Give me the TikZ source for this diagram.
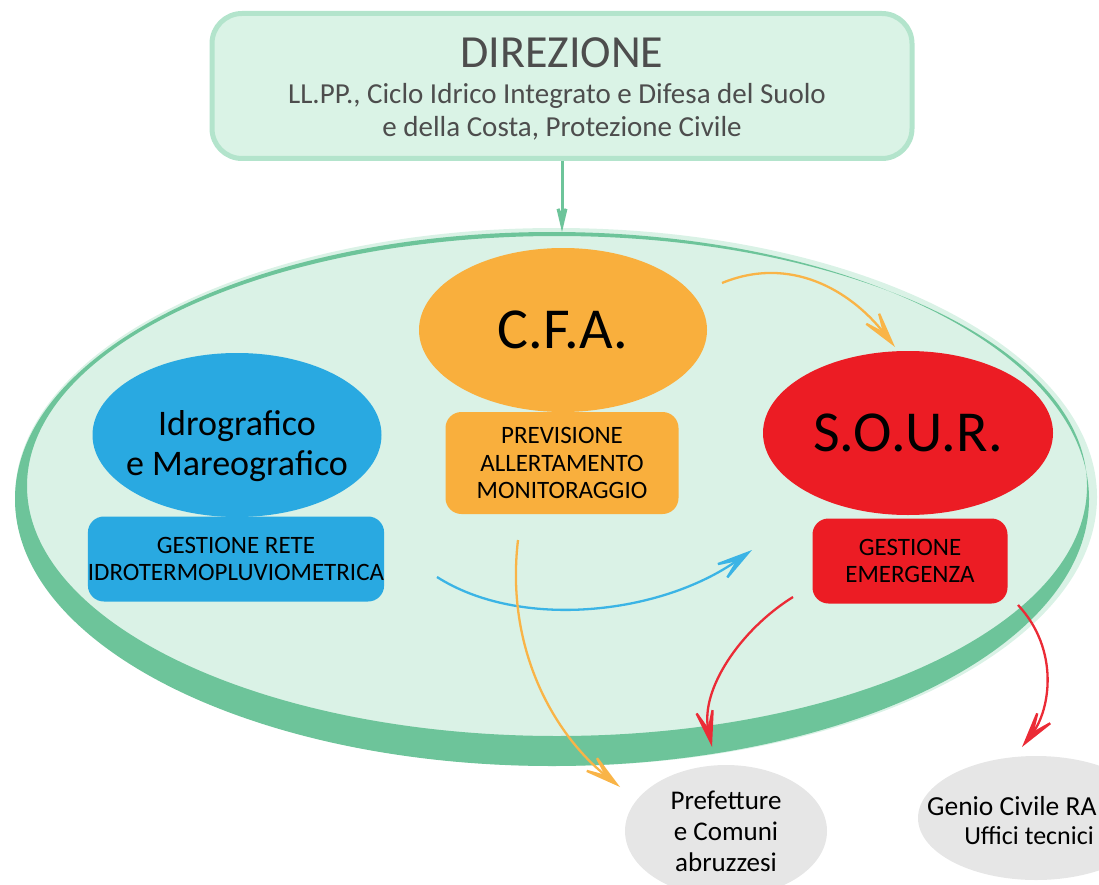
\documentclass[tikz,border=0pt]{standalone}
\usepackage{fontspec}
\setmainfont{Carlito}
\usetikzlibrary{shapes.geometric,arrows.meta}
\definecolor{lgreen}{HTML}{DAF2E6}
\definecolor{boxgreen}{HTML}{DAF3E6}
\definecolor{boxborder}{HTML}{B3E4CC}
\definecolor{bandgreen}{HTML}{6DC49A}
\definecolor{corange}{HTML}{F9AF3D}
\definecolor{cblue}{HTML}{29A9E1}
\definecolor{cred}{HTML}{EC1C24}
\definecolor{cgray}{HTML}{E6E6E6}
\definecolor{darktext}{HTML}{4D4D4D}
\definecolor{arrblue}{HTML}{3BB4E5}
\definecolor{arrorange}{HTML}{F9B447}
\definecolor{arrred}{HTML}{EB2B36}
\tikzset{
  oval/.style={ellipse, inner sep=0pt, text=black},
  subbox/.style={rectangle, rounded corners=16pt, inner sep=0pt, align=center, text=black,
     font=\fontsize{25}{27.5}\selectfont},
  bigtitle/.style={font=\fontsize{58}{60}\selectfont},
  midtitle/.style={align=center, inner sep=0pt, font=\fontsize{36}{40.5}\selectfont},
  dirtext/.style={anchor=base, inner sep=0pt, text=darktext},
  grayoval/.style={ellipse, fill=cgray, inner sep=0pt, align=center, text=black,
     font=\fontsize{27}{31}\selectfont},
  flow/.style={line width=2.3pt, -{Stealth[length=50pt,width=26pt,inset=30pt]}},
}
\begin{document}
\begin{tikzpicture}[x=1pt,y=-1pt]
\useasboundingbox (0,0) rectangle (1099,885);
% big ellipse (brush ring)
\fill[lgreen] (556,497) ellipse [x radius=541pt, y radius=269pt];
\fill[bandgreen, even odd rule] (552,499) ellipse [x radius=537pt, y radius=267pt]
      (557,486) ellipse [x radius=530pt, y radius=250pt];
\node[ellipse, minimum width=1082pt, minimum height=538pt, inner sep=0pt] (big) at (556,497) {};
% top box
\node[rectangle, rounded corners=30pt, fill=boxgreen, draw=boxborder, line width=5pt,
      minimum width=700pt, minimum height=145pt, inner sep=0pt] (dir) at (562,86) {};
\node[dirtext, font=\fontsize{46}{50}\selectfont] (dirt1) at (562,68) {DIREZIONE};
\node[dirtext, font=\fontsize{29}{34}\selectfont] (dirt2) at (557,104) {LL.PP., Ciclo Idrico Integrato e Difesa del Suolo};
\node[dirtext, font=\fontsize{29}{34}\selectfont] (dirt3) at (562,137) {e della Costa, Protezione Civile};
\coordinate (dirend) at (dir.south |- 0,232);
\draw[bandgreen, line width=3pt, -{Stealth[length=38pt,width=18pt,inset=20pt]}] (dir.south) -- (dirend);
% CFA
\node[oval, fill=corange, minimum width=288pt, minimum height=164pt, bigtitle] (cfa) at (563,330) {C.F.A.};
\node[subbox, fill=corange, minimum width=233pt, minimum height=102pt] (cfabox) at (562,463)
  {PREVISIONE\\ALLERTAMENTO\\MONITORAGGIO};
% Idrografico
\node[oval, fill=cblue, minimum width=289pt, minimum height=164pt] (idro) at (237,435) {};
\node[midtitle] (idrot) at (237,446) {Idrografico\\e Mareografico};
\node[subbox, fill=cblue, minimum width=292pt, minimum height=85pt] (idrobox) at (236,559)
  {GESTIONE RETE\\IDROTERMOPLUVIOMETRICA};
% SOUR
\node[oval, fill=cred, minimum width=290pt, minimum height=164pt, bigtitle] (sour) at (908,433) {S.O.U.R.};
\node[subbox, fill=cred, minimum width=195pt, minimum height=85pt] (sourbox) at (910,561)
  {GESTIONE\\EMERGENZA};
% outside ovals
\node[grayoval, minimum width=202pt, minimum height=132pt] (pref) at (726,831)
  {Prefetture\\e Comuni\\abruzzesi};
\node[grayoval, minimum width=236pt, minimum height=124pt] (genio) at (1036,818) {};
\node[anchor=west, font=\fontsize{27.5}{31}\selectfont, inner sep=0pt] (geniot) at (927,806) {Genio Civile RA};
\node[font=\fontsize{26}{31}\selectfont, inner sep=0pt] (ufft) at (1029,836) {Uffici tecnici};
% flow arrows
\coordinate (o1s) at (722,283);
\coordinate (o1e) at (895,347);
\draw[flow, arrorange] (o1s) .. controls (790,255) and (850,290) .. (o1e);
\coordinate (bs) at (437,577);
\coordinate (be) at (752,550);
\draw[flow, arrblue] (bs) .. controls (520,630) and (660,615) .. (be);
\coordinate (o2s) at (518,540);
\coordinate (o2e) at (620,787);
\draw[flow, arrorange] (o2s) .. controls (505,650) and (555,735) .. (o2e);
\coordinate (r1s) at (793,597);
\coordinate (r1e) at (712,747);
\draw[flow, arrred] (r1s) .. controls (740,630) and (700,690) .. (r1e);
\coordinate (r2s) at (1018,605);
\coordinate (r2e) at (1022,747);
\draw[flow, arrred] (r2s) .. controls (1060,650) and (1050,710) .. (r2e);
\end{tikzpicture}
\end{document}
